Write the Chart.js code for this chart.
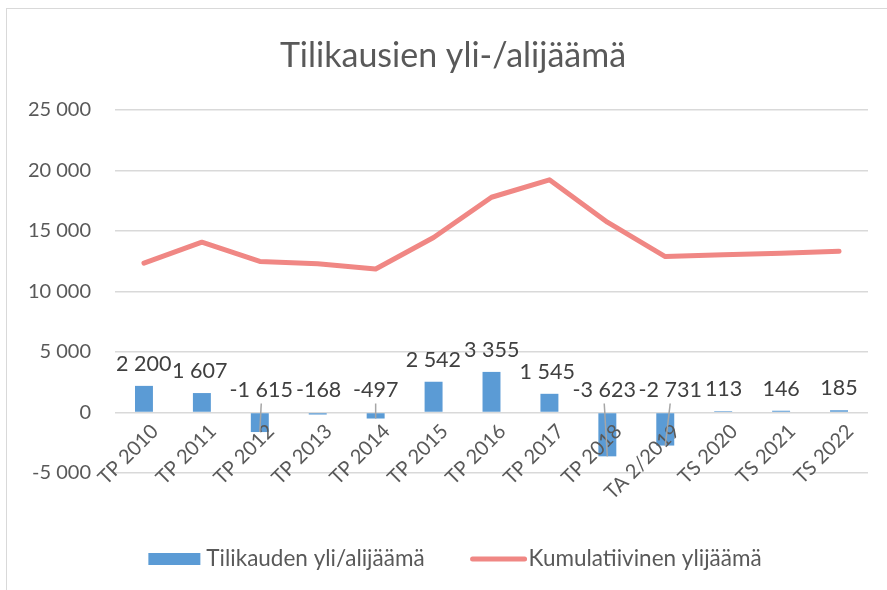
<!DOCTYPE html>
<html>
<head>
<meta charset="utf-8">
<script src="https://cdn.jsdelivr.net/npm/chart.js@4/dist/chart.umd.min.js"></script>
<style>
  html, body { margin: 0; padding: 0; background: #fff; overflow: hidden; }
  #frame { position: absolute; left: 6px; top: 8px; width: 900px; height: 600px; border: 1.5px solid #d9d9d9; }
  #wrap { position: absolute; left: 0; top: 0; width: 887px; height: 590px; }
</style>
</head>
<body>
<div id="frame"></div>
<div id="wrap"><canvas id="c" width="887" height="590"></canvas></div>
<script>
const TITLE = 'Tilikausien yli-/alijäämä';
const categories = ['TP 2010', 'TP 2011', 'TP 2012', 'TP 2013', 'TP 2014', 'TP 2015', 'TP 2016', 'TP 2017', 'TP 2018', 'TA 2/2019', 'TS 2020', 'TS 2021', 'TS 2022'];
const barLabel = 'Tilikauden yli/alijäämä';
const barValues = [2200, 1607, -1615, -168, -497, 2542, 3355, 1545, -3623, -2731, 113, 146, 185];
const lineLabel = 'Kumulatiivinen ylijäämä';
const lineValues = [12350, 14080, 12480, 12290, 11860, 14460, 17790, 19230, 15730, 12890, 13030, 13170, 13330];
const yTicks = [-5000, 0, 5000, 10000, 15000, 20000, 25000];

const FONT = 'Lato';
function fmt(v) {
  const s = String(Math.abs(Math.round(v))).replace(/\B(?=(\d{3})+(?!\d))/g, ' ');
  return (v < 0 ? '-' : '') + s;
}

const titlePlugin = {
  id: 'titlePlugin',
  afterDraw(chart) {
    const ctx = chart.ctx;
    ctx.save();
    ctx.font = '34px ' + FONT;
    ctx.fillStyle = '#595959';
    ctx.textAlign = 'center';
    ctx.textBaseline = 'alphabetic';
    ctx.fillText(TITLE, 453, 67);
    ctx.restore();
  }
};

const dataLabels = {
  id: 'dataLabels',
  afterDraw(chart) {
    const ctx = chart.ctx;
    const meta = chart.getDatasetMeta(0);
    const ys = chart.scales.y;
    const vals = chart.data.datasets[0].data;
    ctx.save();
    ctx.font = '21.5px ' + FONT;
    ctx.textAlign = 'center';
    ctx.textBaseline = 'middle';
    const items = meta.data.map((bar, i) => {
      const v = vals[i];
      const text = fmt(v);
      return { v, text, bx: bar.x, x: bar.x, y: ys.getPixelForValue(Math.max(v, 0)) - 22, w: ctx.measureText(text).width };
    });
    for (let i = 1; i < items.length; i++) {
      const a = items[i - 1], b = items[i];
      if (Math.abs(a.y - b.y) < 20) {
        const need = (a.w + b.w) / 2 + 3;
        const gap = b.x - a.x;
        if (gap < need) {
          const d = (need - gap) / 2;
          a.x -= d; b.x += d;
        }
      }
    }
    items.forEach(it => {
      if (it.v < -300) {
        ctx.save();
        ctx.strokeStyle = '#a6a6a6';
        ctx.lineWidth = 1.5;
        ctx.beginPath();
        ctx.moveTo(it.x, it.y + 13);
        ctx.lineTo(it.bx, ys.getPixelForValue(it.v));
        ctx.stroke();
        ctx.restore();
      }
      ctx.fillStyle = '#404040';
      ctx.fillText(it.text, it.x, it.y);
    });
    ctx.restore();
  }
};

const customLegend = {
  id: 'customLegend',
  afterDraw(chart) {
    const ctx = chart.ctx;
    const ds = chart.data.datasets;
    ctx.save();
    ctx.font = '22.5px ' + FONT;
    ctx.textBaseline = 'middle';
    const w1 = ctx.measureText(ds[0].label).width;
    const w2 = ctx.measureText(ds[1].label).width;
    const total = 52 + 6 + w1 + 46 + 56 + 2 + w2;
    let x = 455 - total / 2;
    const y = 559;
    ctx.fillStyle = ds[0].backgroundColor;
    ctx.fillRect(x, y - 6, 52, 12);
    x += 58;
    ctx.fillStyle = '#595959';
    ctx.fillText(ds[0].label, x, y);
    x += w1 + 46;
    ctx.strokeStyle = ds[1].borderColor;
    ctx.lineWidth = 5;
    ctx.lineCap = 'round';
    ctx.beginPath();
    ctx.moveTo(x + 2, y);
    ctx.lineTo(x + 54, y);
    ctx.stroke();
    x += 58;
    ctx.fillText(ds[1].label, x, y);
    ctx.restore();
  }
};

new Chart(document.getElementById('c'), {
  data: {
    labels: categories,
    datasets: [
      {
        type: 'bar',
        label: barLabel,
        data: barValues,
        backgroundColor: '#5b9bd5',
        borderWidth: 0,
        barPercentage: 0.31,
        categoryPercentage: 1.0,
        order: 2
      },
      {
        type: 'line',
        label: lineLabel,
        data: lineValues,
        borderColor: '#f08784',
        backgroundColor: '#f08784',
        borderWidth: 5,
        borderCapStyle: 'round',
        borderJoinStyle: 'round',
        pointRadius: 0,
        tension: 0,
        fill: false,
        order: 1
      }
    ]
  },
  options: {
    responsive: false,
    animation: false,
    layout: { padding: { left: 0, right: 19, top: 110, bottom: 117 } },
    plugins: {
      legend: { display: false },
      tooltip: { enabled: false },
      title: { display: false }
    },
    scales: {
      x: {
        type: 'category',
        position: { y: 0 },
        offset: true,
        grid: { display: false, drawTicks: false },
        border: { display: false },
        ticks: {
          z: 1,
          autoSkip: false,
          minRotation: 45,
          maxRotation: 45,
          color: '#595959',
          font: { family: FONT, size: 20 },
          padding: 7,
          labelOffset: 11
        },
        afterFit(scale) { scale.height = 0; }
      },
      y: {
        min: -5000,
        max: 25000,
        afterBuildTicks(scale) { scale.ticks = yTicks.map(v => ({ value: v })); },
        grid: { color: '#d9d9d9', lineWidth: 1.5, drawTicks: false },
        border: { display: false },
        ticks: {
          color: '#595959',
          font: { family: FONT, size: 20 },
          padding: 24,
          callback: (v) => fmt(v)
        },
        afterFit(scale) { scale.width = 115; }
      }
    }
  },
  plugins: [titlePlugin, dataLabels, customLegend]
});
</script>
</body>
</html>
